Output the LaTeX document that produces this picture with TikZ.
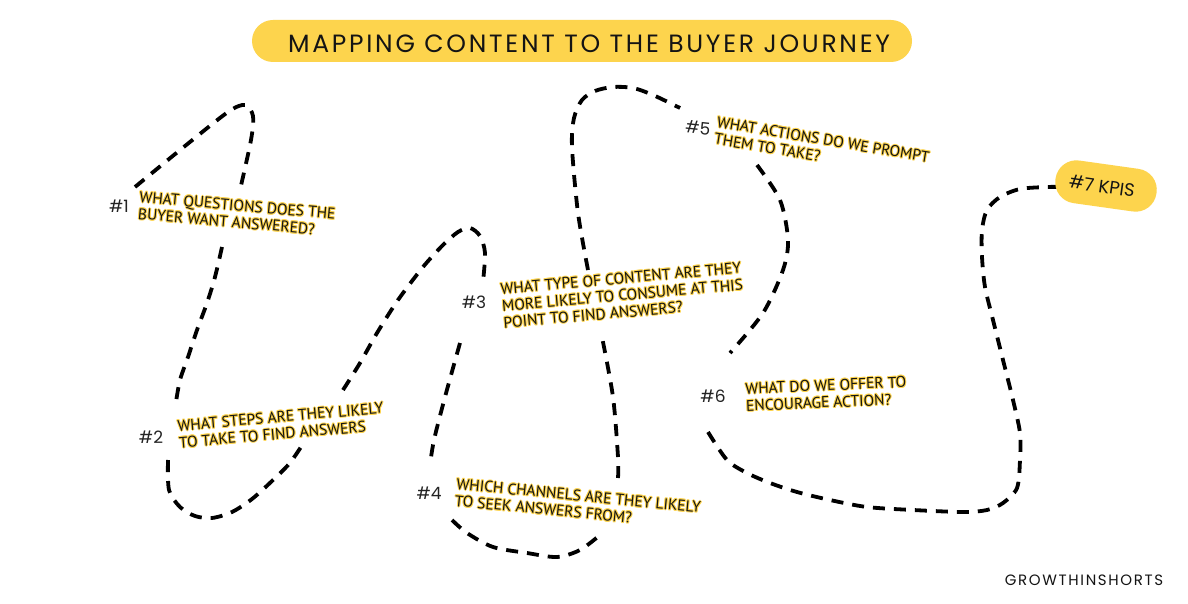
\documentclass[tikz,border=0pt]{standalone}
\usepackage{fontspec}
\setmainfont{PT Sans}
\newfontfamily\pop{Poppins}
\newfontfamily\popw[LetterSpace=11]{Poppins}
\definecolor{ylw}{RGB}{253,212,77}
\definecolor{ink}{RGB}{20,20,20}
\definecolor{hashc}{RGB}{35,35,35}
\tikzset{
  lbl/.style={font=\fontsize{15.5}{17}\selectfont, align=left, inner sep=0pt, text=ink},
  hashlbl/.style={font=\pop\fontsize{17}{18}\selectfont, inner sep=0pt, text=hashc},
  trail/.style={line width=3.8pt, dash pattern=on 12pt off 9pt, black},
  pill/.style={fill=ylw, rounded corners=21pt, inner sep=0pt}
}
\newcommand\outlbl[5]{%
  \foreach \ox/\oy in {1/0,-1/0,0/1,0/-1,0.7/0.7,-0.7/0.7,0.7/-0.7,-0.7/-0.7}{%
    \node[lbl,text=ylw,rotate=#3,anchor=#4] at ([xshift=\ox pt,yshift=\oy pt]#2) {#5};}%
  \node[lbl,rotate=#3,anchor=#4] (#1) at (#2) {#5};%
}
\begin{document}
\begin{tikzpicture}[x=1pt,y=-1pt]
\useasboundingbox (0,0) rectangle (1188,604);
\fill[white] (0,0) rectangle (1188,604);

% title
\node[pill, minimum width=660pt, minimum height=42pt] (titlebox) at (582,41) {};
\node[font=\popw\fontsize{25}{26}\selectfont, text=ink, inner sep=0pt] (title) at (589,44) {MAPPING CONTENT TO THE BUYER JOURNEY};

% trail segments
\draw[trail] plot[smooth] coordinates {(135,187) (185,146) (228,112) (245,105) (253,116) (251,140) (240,190)};
\draw[trail] plot[smooth] coordinates {(222,247) (215,277) (207,303) (197,330) (188,357) (180,380) (176,402)};
\draw[trail] plot[smooth] coordinates {(168,460) (169,490) (180,507) (195,516) (212,518) (232,512) (252,499) (272,481) (289,464) (301,447)};
\draw[trail] plot[smooth] coordinates {(343,390) (360,363) (377,333) (398,300) (423,267) (443,245) (458,232) (470,228) (480,236) (485,253) (483,282)};
\draw[trail] plot[smooth] coordinates {(460,343) (445,397) (434,440) (430,465)};
\draw[trail] plot[smooth] coordinates {(452,520) (467,533) (493,547) (527,553) (557,557) (580,550) (600,535)};
\draw[trail] plot[smooth] coordinates {(618,478) (618,457) (613,397) (602,337)};
\draw[trail] plot[smooth] coordinates {(588,270) (578,213) (572,147) (574,118) (582,100) (595,91) (613,87) (633,88) (653,95) (680,108)};
\draw[trail] plot[smooth] coordinates {(757,165) (780,200) (788,240) (783,270) (763,313) (730,353)};
\draw[trail] plot[smooth] coordinates {(708,432) (727,460) (747,473) (770,483) (797,492) (830,500) (867,507) (913,510) (963,512) (987,510) (1003,503) (1017,488) (1020,460) (1020,433) (1013,400) (1003,360) (993,320) (985,287) (982,257) (982,230) (987,210) (1000,197) (1020,189) (1047,187) (1060,187)};

% KPI pill
\node[pill, minimum width=102pt, minimum height=43pt, rotate=-8] (kpi) at (1106,186) {};
\node[font=\pop\fontsize{18}{19}\selectfont, text=ink, rotate=-8, inner sep=0pt] (kpit) at (1102,186) {\#7 KPIS};

% hash labels
\node[hashlbl] (h1) at (119,206) {\#1};
\node[hashlbl] (h2) at (151,437) {\#2};
\node[hashlbl] (h3) at (474,302) {\#3};
\node[hashlbl] (h4) at (429,493) {\#4};
\node[hashlbl, rotate=-6] (h5) at (698,128) {\#5};
\node[hashlbl] (h6) at (713,396) {\#6};

% question labels
\coordinate (q1) at (140,191);
\coordinate (q2) at (177,420);
\coordinate (q3) at (500,283);
\coordinate (q4) at (457,478);
\coordinate (q5) at (718,116);
\coordinate (q6) at (745,383);
\outlbl{t1}{q1}{-5}{north west}{WHAT QUESTIONS DOES THE\\BUYER WANT ANSWERED?}
\outlbl{t2}{q2}{5}{north west}{WHAT STEPS ARE THEY LIKELY\\TO TAKE TO FIND ANSWERS}
\outlbl{t3}{q3}{5}{north west}{WHAT TYPE OF CONTENT ARE THEY\\MORE LIKELY TO CONSUME AT THIS\\POINT TO FIND ANSWERS?}
\outlbl{t4}{q4}{-5.5}{north west}{WHICH CHANNELS ARE THEY LIKELY\\TO SEEK ANSWERS FROM?}
\outlbl{t5}{q5}{-9.5}{north west}{WHAT ACTIONS DO WE PROMPT\\THEM TO TAKE?}
\outlbl{t6}{q6}{2.5}{north west}{WHAT DO WE OFFER TO\\ENCOURAGE ACTION?}

% watermark
\node[font=\popw\fontsize{15}{16}\selectfont, text=ink, inner sep=0pt] (wm) at (1084,580) {GROWTHINSHORTS};
\end{tikzpicture}
\end{document}
